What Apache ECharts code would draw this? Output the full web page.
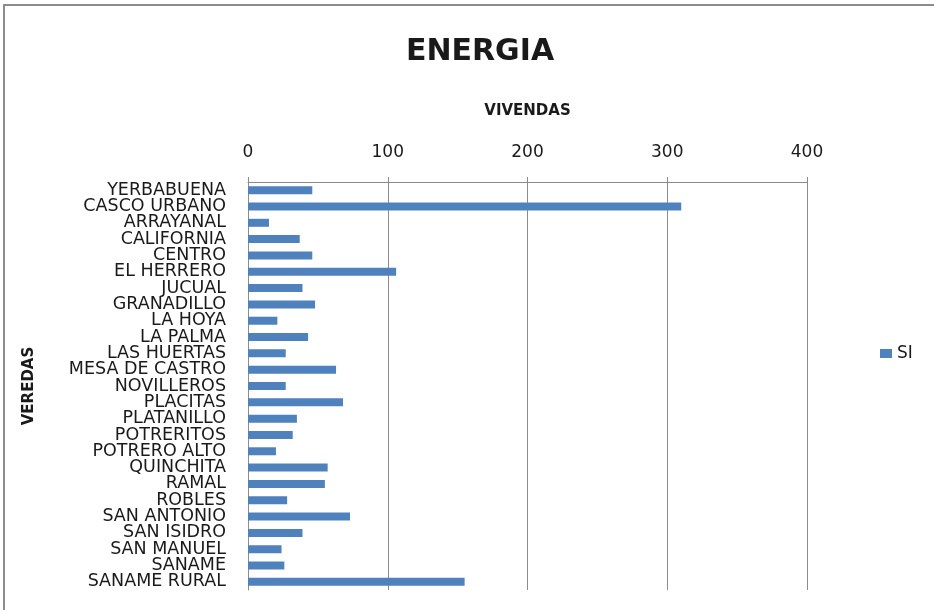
<!DOCTYPE html>
<html>
<head>
<meta charset="utf-8" />
<script type="text/javascript" src="https://cdn.jsdelivr.net/npm/echarts@6/dist/echarts.min.js"></script>
<title>ENERGIA</title>
<style>
  html, body { margin: 0; padding: 0; background: #fff; }
  #frame { position: absolute; left: 3px; top: 4px; width: 931px; height: 606px;
           border-top: 2px solid #8c8c8c; border-left: 2px solid #8c8c8c; box-sizing: border-box; }
  #chart { position: absolute; left: 0; top: 0; width: 934px; height: 610px; }
</style>
</head>
<body>
<div id="frame"></div>
<div id="chart"></div>
<script>
// veredas (categorias) y numero de viviendas con energia
var veredas = ['YERBABUENA', 'CASCO URBANO', 'ARRAYANAL', 'CALIFORNIA', 'CENTRO', 'EL HERRERO',
  'JUCUAL', 'GRANADILLO', 'LA HOYA', 'LA PALMA', 'LAS HUERTAS', 'MESA DE CASTRO', 'NOVILLEROS',
  'PLACITAS', 'PLATANILLO', 'POTRERITOS', 'POTRERO ALTO', 'QUINCHITA', 'RAMAL', 'ROBLES',
  'SAN ANTONIO', 'SAN ISIDRO', 'SAN MANUEL', 'SANAME', 'SANAME RURAL'];
var valoresSI = [46, 310, 15, 37, 46, 106, 39, 48, 21, 43, 27, 63, 27, 68, 35, 32, 20, 57, 55, 28,
  73, 39, 24, 26, 155];
var serieNombre = 'SI';

var txt = '#1a1a1a';
var gris = '#8c8c8c';
var fuente = 'DejaVu Sans';

var chart = echarts.init(document.getElementById('chart'));
chart.setOption({
  animation: false,
  title: {
    text: 'ENERGIA',
    left: 475, top: 32, textAlign: 'center',
    textStyle: { fontFamily: fuente, fontWeight: 'bold', fontSize: 30, color: txt }
  },
  legend: {
    data: [serieNombre],
    left: 875, top: 340,
    icon: 'rect', itemWidth: 12, itemHeight: 9,
    textStyle: { fontFamily: fuente, fontSize: 17, color: txt }
  },
  grid: { left: 248, right: 127, top: 182, bottom: 20, containLabel: false },
  xAxis: {
    type: 'value', position: 'top',
    min: 0, max: 400, interval: 100,
    name: 'VIVENDAS', nameLocation: 'middle', nameGap: 63,
    nameTextStyle: { fontFamily: fuente, fontWeight: 'bold', fontSize: 15, color: txt },
    axisLine: { show: true, lineStyle: { color: gris, width: 1 } },
    axisTick: { show: true, length: 5, lineStyle: { color: gris } },
    axisLabel: { margin: 21, fontFamily: fuente, fontSize: 17, color: txt },
    splitLine: { show: true, lineStyle: { color: gris, width: 1 } }
  },
  yAxis: {
    type: 'category', inverse: true, data: veredas,
    name: 'VEREDAS', nameLocation: 'middle', nameGap: 211, nameRotate: 90,
    nameTextStyle: { fontFamily: fuente, fontWeight: 'bold', fontSize: 15, color: txt },
    axisLine: { show: true, lineStyle: { color: gris, width: 1 } },
    axisTick: { show: false },
    axisLabel: { margin: 22, interval: 0, fontFamily: fuente, fontSize: 17.5, color: txt },
    splitLine: { show: false }
  },
  series: [{
    name: serieNombre, type: 'bar', data: valoresSI,
    barWidth: 8,
    itemStyle: { color: '#4f81bd' }
  }]
});
</script>
</body>
</html>
